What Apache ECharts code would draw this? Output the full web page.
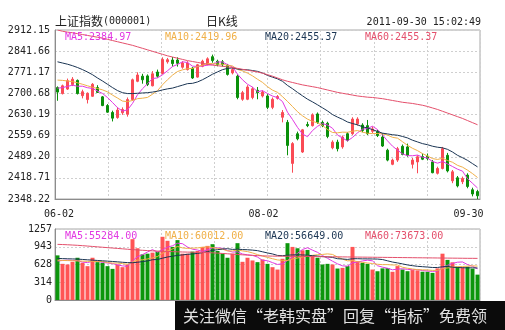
<!DOCTYPE html>
<html>
<head>
<meta charset="utf-8">
<script src="https://cdn.jsdelivr.net/npm/echarts@6/dist/echarts.min.js"></script>
<style>
  html, body { margin: 0; padding: 0; background: #fff; }
  #chart { width: 505px; height: 330px; }
</style>
</head>
<body>
<div id="chart"></div>
<script>
// Trading days shown on the chart
const dates = [
  '06-02','06-03','06-07','06-08','06-09','06-10','06-13','06-14','06-15','06-16',
  '06-17','06-20','06-21','06-22','06-23','06-24','06-27','06-28','06-29','06-30',
  '07-01','07-04','07-05','07-06','07-07','07-08','07-11','07-12','07-13','07-14',
  '07-15','07-18','07-19','07-20','07-21','07-22','07-25','07-26','07-27','07-28',
  '07-29','08-01','08-02','08-03','08-04','08-05','08-08','08-09','08-10','08-11',
  '08-12','08-15','08-16','08-17','08-18','08-19','08-22','08-23','08-24','08-25',
  '08-26','08-29','08-30','08-31','09-01','09-02','09-05','09-06','09-07','09-08',
  '09-09','09-13','09-14','09-15','09-16','09-19','09-20','09-21','09-22','09-23',
  '09-26','09-27','09-28','09-29','09-30'
];

// Daily prices
const openPx = [
  2720,2700,2715,2730,2744,2693,2680,2691,2720,2689,
  2660,2637,2620,2636,2631,2680,2741,2758,2759,2726,
  2772,2767,2806,2812,2812,2788,2780,2785,2755,2791,
  2797,2823,2808,2806,2794,2769,2758,2681,2681,2687,
  2711,2692,2692,2654,2684,2621,2604,2467,2566,2505,
  2597,2593,2632,2604,2601,2519,2538,2522,2566,2566,
  2599,2595,2593,2574,2573,2555,2511,2464,2478,2524,
  2522,2464,2472,2490,2491,2472,2434,2450,2494,2409,
  2419,2406,2428,2379,2373
];
const closePx = [
  2705,2726,2743,2748,2700,2706,2701,2731,2704,2660,
  2638,2618,2645,2647,2680,2746,2762,2746,2730,2766,
  2758,2814,2813,2800,2801,2802,2802,2752,2796,2808,
  2816,2810,2797,2796,2764,2780,2687,2703,2722,2716,
  2703,2705,2654,2681,2690,2637,2527,2533,2549,2579,
  2593,2629,2604,2593,2557,2538,2516,2555,2544,2615,
  2615,2577,2566,2582,2560,2525,2478,2478,2516,2497,
  2494,2478,2489,2481,2483,2436,2450,2516,2442,2439,
  2392,2417,2390,2365,2359
];
const lowPx = [
  2676,2697,2712,2725,2697,2684,2667,2689,2702,2658,
  2636,2607,2616,2629,2623,2676,2738,2733,2725,2724,
  2753,2764,2800,2790,2790,2783,2777,2749,2753,2788,
  2794,2803,2791,2790,2760,2764,2681,2676,2678,2681,
  2681,2687,2648,2648,2680,2604,2494,2436,2544,2502,
  2588,2590,2599,2588,2551,2514,2507,2516,2540,2562,
  2593,2571,2562,2568,2555,2522,2474,2461,2472,2494,
  2489,2450,2434,2478,2477,2434,2430,2447,2437,2401,
  2387,2398,2384,2357,2348.22
];
const highPx = [
  2724,2730,2750,2755,2747,2713,2704,2735,2728,2692,
  2665,2643,2654,2654,2687,2750,2771,2766,2764,2775,
  2780,2821,2819,2822,2821,2808,2808,2788,2799,2813,
  2821,2830,2813,2812,2799,2786,2764,2709,2728,2722,
  2722,2711,2698,2687,2695,2645,2612,2538,2573,2582,
  2606,2634,2637,2610,2606,2544,2546,2560,2571,2621,
  2621,2601,2612,2590,2579,2568,2516,2483,2522,2530,
  2533,2485,2494,2500,2500,2478,2456,2522,2502,2445,
  2425,2423,2434,2386,2379
];

// Price moving averages
const priceMa5 = [
  2718,2720,2724,2728,2724.4,2724.6,2719.6,2717.2,2708.4,2700.4,
  2686.8,2670.2,2653,2641.6,2645.6,2667.2,2696,2716.2,2732.8,2750,
  2752.4,2762.8,2776.2,2790.2,2797.2,2806,2803.6,2791.4,2790.6,2792,
  2794.8,2796.4,2805.4,2805.4,2796.6,2789.4,2764.8,2746,2731.2,2721.6,
  2706.2,2709.8,2700,2691.8,2686.6,2673.4,2637.8,2613.6,2587.2,2565,
  2556.2,2576.6,2590.8,2599.6,2595.2,2584.2,2561.6,2551.8,2542,2553.6,
  2569,2581.2,2583.4,2591,2580,2562,2542.2,2524.6,2511.4,2498.8,
  2492.6,2492.6,2494.8,2487.8,2485,2473.4,2467.8,2473.2,2465.4,2456.6,
  2447.8,2441.2,2416,2400.6,2384.97
];
const priceMa10 = [
  2745,2744,2742,2740,2736,2731,2726,2721,2717,2712.4,
  2705.7,2694.9,2685.1,2675,2673,2677,2683.1,2684.6,2687.2,2697.8,
  2709.8,2729.4,2746.2,2761.5,2773.6,2779.2,2783.2,2783.8,2790.4,2794.6,
  2800.4,2800,2798.4,2798,2794.3,2792.1,2780.6,2775.7,2768.3,2759.1,
  2747.8,2737.3,2723,2711.5,2704.1,2689.8,2673.8,2656.8,2639.5,2625.8,
  2614.8,2607.2,2602.2,2593.4,2580.1,2570.2,2569.1,2571.3,2570.8,2574.4,
  2576.6,2571.4,2567.6,2566.5,2566.8,2565.5,2561.7,2554,2551.2,2539.4,
  2527.3,2517.4,2509.7,2499.6,2491.9,2483,2480.2,2484,2476.6,2470.8,
  2460.6,2454.5,2444.6,2433,2419.96
];
const priceMa20 = [
  2806,2802,2798,2793,2787,2780,2772,2763,2752,2742,
  2731,2720,2710,2703,2700,2700,2701,2702,2703,2705.1,
  2707.8,2712.2,2715.7,2718.3,2723.3,2728.1,2733.2,2734.2,2738.8,2746.2,
  2755.1,2764.7,2772.3,2779.8,2784,2785.7,2781.9,2779.8,2779.4,2776.9,
  2774.1,2768.7,2760.7,2754.8,2749.2,2741,2727.2,2716.3,2703.9,2692.5,
  2681.3,2672.3,2662.6,2652.5,2642.1,2630,2621.5,2614.1,2605.2,2600.1,
  2595.7,2589.3,2584.9,2580,2573.5,2567.9,2565.4,2562.7,2561,2556.9,
  2552,2544.4,2538.7,2533,2529.4,2524.3,2521,2519,2513.9,2505.1,
  2494,2486,2477.2,2466.3,2455.37
];
const priceMa60 = [
  2912.15,2908,2905,2903,2900,2897,2894,2891,2888,2885,
  2881,2877,2873,2869,2865,2861,2856,2851,2846,2841,
  2836,2831,2826,2822,2818,2814,2810,2807,2804,2801,
  2798,2795,2793,2791,2789,2787,2784,2781,2778,2775,
  2772,2768,2763,2758,2752,2746,2741,2737,2733,2729,
  2726,2723,2720,2716,2712,2708,2704,2701,2698,2695,
  2692,2690,2688,2687,2685,2683,2680,2677,2674,2671,
  2669,2667,2664,2661,2657,2652,2647,2641,2635,2629,
  2623,2617,2610,2603,2596
];

// Daily volume and its moving averages
const volume = [
  790,640,629,676,748,658,599,748,670,658,
  599,551,629,581,629,1077,916,808,820,838,
  856,1119,1048,940,1060,820,820,856,868,940,
  958,988,868,820,748,820,1006,676,748,700,
  670,718,640,581,539,730,1006,940,916,880,
  886,790,748,629,640,629,557,569,599,940,
  688,658,640,539,509,560,565,500,600,540,
  510,530,525,500,500,480,560,820,710,667,
  590,580,590,555,449
];
const volMa5 = [
  690,700,705,700,696.6,670.2,662,685.8,684.6,666.6,
  654.8,645.2,621.4,603.6,597.8,693.4,766.4,802.2,850,891.8,
  847.6,888.2,936.2,960.2,1004.6,997.4,937.6,899.2,884.8,860.8,
  888.4,922,924.4,914.8,876.4,848.8,852.4,814,799.6,790,
  760,702.4,695.2,661.8,629.6,641.6,699.2,759.2,826.2,894.4,
  925.6,882.4,844,786.6,738.6,687.2,640.6,604.8,598.8,658.8,
  670.6,690.8,705,693,606.8,581.2,562.6,534.6,546.8,553,
  543,536,541,521,513,507,513,572,614,647.4,
  669.4,673.4,627.4,596.4,552.84
];
const volMa10 = [
  705,700,698,695,692,688,685,683,682,681.6,
  662.5,653.6,653.6,644.1,632.2,674.1,705.8,711.8,726.8,744.8,
  770.5,827.3,869.2,905.1,948.2,922.5,912.9,917.7,922.5,932.7,
  942.9,929.8,911.8,899.8,868.6,868.6,887.2,869.2,857.2,833.2,
  804.4,777.4,754.6,730.7,709.8,700.8,700.8,727.2,744,762,
  783.6,790.8,801.6,806.4,816.5,806.4,761.5,724.4,692.7,698.7,
  678.9,665.7,654.9,645.9,632.8,625.9,626.7,619.8,619.9,579.9,
  562.1,549.3,537.8,533.9,533,525,524.5,556.5,567.5,580.2,
  588.2,593.2,599.7,605.2,600.12
];
const volMa20 = [
  736,733,730,727,724,718,712,706,700,694,
  688,682,676,668,662,660,668,680,692,713.2,
  716.5,740.5,761.4,774.6,790.2,798.3,809.4,814.8,824.7,838.8,
  856.7,878.6,890.5,902.5,908.4,895.6,900.1,893.5,889.9,883,
  873.7,853.6,833.2,815.3,789.2,784.7,794,798.2,800.6,797.6,
  794,784.1,778.1,768.6,763.2,753.6,731.2,725.8,718.4,730.4,
  731.3,728.3,728.3,726.2,724.7,716.2,694.1,672.1,656.3,639.3,
  620.5,607.5,596.4,589.9,582.9,575.5,575.6,588.2,593.7,580.1,
  575.2,571.3,568.8,569.6,566.49
];
const volMa60 = [
  985,982,978,973,968,962,955,948,941,934,
  927,920,913,906,899,892,886,880,875,870,
  866,862,859,856,853,850,848,846,844,842,
  839,835,830,824,818,812,806,800,795,790,
  786,782,779,777,776,775,774,773,772,771,
  770,769,768,767,766,765,764,763,762,761,
  760,759,758,757,756,755,754,753,752,751,
  750,749,748,747,746,745,744,743,742,741,
  740,739,738,737.5,736.73
];

// Axis tick labels
const priceTicks = ['2348.22','2418.71','2489.20','2559.69','2630.19','2700.68','2771.17','2841.66','2912.15'];
const volumeTicks = ['0','314','628','943','1257'];
const dateTicks = ['06-02','08-02','09-30'];

// Header and moving-average captions
const titleName = '上证指数';
const titleCode = '(000001)';
const periodName = '日K线';
const timestamp = '2011-09-30 15:02:49';
const priceMaLabels = ['MA5:2384.97','MA10:2419.96','MA20:2455.37','MA60:2455.37'];
const volumeMaLabels = ['MA5:55284.00','MA10:60012.00','MA20:56649.00','MA60:73673.00'];
const bannerText = '关注微信“老韩实盘”回复“指标”免费领';

// ---- styling ----
const MONO = '"DejaVu Sans Mono", "Liberation Mono", monospace';
const CJK = '"Noto Sans CJK SC", sans-serif';
const UP = '#fa4b55', DOWN = '#0a900a';
const VOL_UP = '#ff5454', VOL_DOWN = '#0c960c';
const MA_COLORS = ['#e238e2', '#f0b048', '#1b3553', '#e4506c'];
const GRID_LINE = { show: true, lineStyle: { color: '#cfcfcf', type: [2, 2], width: 1 } };
const AXIS_LINE = { show: true, lineStyle: { color: '#8c8c8c', width: 1 } };

const priceMin = parseFloat(priceTicks[0]);
const priceMax = parseFloat(priceTicks[priceTicks.length - 1]);
const priceStep = (priceMax - priceMin) / (priceTicks.length - 1);
const volMax = parseFloat(volumeTicks[volumeTicks.length - 1]);
const volStep = volMax / (volumeTicks.length - 1);

const PLOT_L = 55, PLOT_W = 425;
const grids = [
  { left: PLOT_L, top: 30, width: PLOT_W, height: 169, show: true, borderColor: '#a8a8a8', borderWidth: 1 },
  { left: PLOT_L, top: 229, width: PLOT_W, height: 71, show: true, borderColor: '#a8a8a8', borderWidth: 1 }
];

function maLine(name, data, color, xi, yi) {
  return {
    name, type: 'line', data, xAxisIndex: xi, yAxisIndex: yi,
    symbol: 'none', smooth: false, silent: true,
    lineStyle: { color, width: 1 }, z: 3
  };
}

function verticalGridAxis(gridIndex) {
  return {
    type: 'value', gridIndex, min: 0, max: 8, interval: 1, position: 'top',
    axisLine: { show: false }, axisTick: { show: false }, axisLabel: { show: false },
    splitLine: GRID_LINE
  };
}

const dateRich = {
  d0: { fontFamily: MONO, fontSize: 10, color: '#222', padding: [0, 0, 0, 3] },
  d1: { fontFamily: MONO, fontSize: 10, color: '#222', padding: [0, 8, 0, 0] },
  d2: { fontFamily: MONO, fontSize: 10, color: '#222', padding: [0, 18, 0, 0] }
};

const candleData = dates.map((d, i) => [openPx[i], closePx[i], lowPx[i], highPx[i]]);
const volumeData = volume.map((v, i) => ({
  value: v,
  itemStyle: { color: closePx[i] >= openPx[i] ? VOL_UP : VOL_DOWN }
}));

function captionTexts(labels, y) {
  return labels.map((t, k) => ({
    type: 'text', x: 65 + k * 100, y, z: 10, silent: true,
    style: { text: t, fill: MA_COLORS[k], fontFamily: MONO, fontSize: 10, textVerticalAlign: 'middle' }
  }));
}

const option = {
  animation: false,
  backgroundColor: '#ffffff',
  grid: grids,
  xAxis: [
    {
      type: 'category', gridIndex: 0, data: dates, boundaryGap: true,
      axisLine: AXIS_LINE, axisTick: { show: false }, splitLine: { show: false },
      axisLabel: {
        show: true, margin: 10,
        interval: (i, v) => dateTicks.indexOf(v) >= 0,
        formatter: v => `{d${dateTicks.indexOf(v)}|${v}}`,
        rich: dateRich
      }
    },
    {
      type: 'category', gridIndex: 1, data: dates, boundaryGap: true,
      axisLine: AXIS_LINE, axisTick: { show: false }, axisLabel: { show: false }, splitLine: { show: false }
    },
    verticalGridAxis(0),
    verticalGridAxis(1)
  ],
  yAxis: [
    {
      type: 'value', gridIndex: 0, min: priceMin, max: priceMax, interval: priceStep,
      axisLine: AXIS_LINE, axisTick: { show: false },
      axisLabel: {
        margin: 5, fontFamily: MONO, fontSize: 10, color: '#222',
        formatter: v => priceTicks[Math.round((v - priceMin) / priceStep)]
      },
      splitLine: GRID_LINE
    },
    {
      type: 'value', gridIndex: 1, min: 0, max: volMax, interval: volStep,
      axisLine: AXIS_LINE, axisTick: { show: false },
      axisLabel: {
        margin: 3, fontFamily: MONO, fontSize: 10, color: '#222',
        formatter: v => volumeTicks[Math.round(v / volStep)]
      },
      splitLine: GRID_LINE
    }
  ],
  series: [
    {
      name: 'K', type: 'candlestick', xAxisIndex: 0, yAxisIndex: 0,
      data: candleData, barWidth: 3, silent: true, z: 2,
      itemStyle: { color: UP, color0: DOWN, borderColor: UP, borderColor0: DOWN, borderWidth: 1 }
    },
    maLine('MA5', priceMa5, MA_COLORS[0], 0, 0),
    maLine('MA10', priceMa10, MA_COLORS[1], 0, 0),
    maLine('MA20', priceMa20, MA_COLORS[2], 0, 0),
    maLine('MA60', priceMa60, MA_COLORS[3], 0, 0),
    {
      name: 'VOL', type: 'bar', xAxisIndex: 1, yAxisIndex: 1,
      data: volumeData, barWidth: 4, silent: true, z: 2
    },
    maLine('VMA5', volMa5, MA_COLORS[0], 1, 1),
    maLine('VMA10', volMa10, MA_COLORS[1], 1, 1),
    maLine('VMA20', volMa20, MA_COLORS[2], 1, 1),
    maLine('VMA60', volMa60, MA_COLORS[3], 1, 1)
  ],
  graphic: [
    { type: 'text', x: 55, y: 21, silent: true,
      style: { text: titleName, fill: '#222', fontFamily: CJK, fontSize: 12, textVerticalAlign: 'middle' } },
    { type: 'text', x: 103, y: 21, silent: true,
      style: { text: titleCode, fill: '#222', fontFamily: MONO, fontSize: 10, textVerticalAlign: 'middle' } },
    { type: 'text', x: 206, y: 21, silent: true,
      style: { text: periodName, fill: '#222', fontFamily: CJK, fontSize: 12, textVerticalAlign: 'middle' } },
    { type: 'text', x: 481, y: 22, silent: true,
      style: { text: timestamp, fill: '#222', fontFamily: MONO, fontSize: 10, textAlign: 'right', textVerticalAlign: 'middle' } },
    ...captionTexts(priceMaLabels, 37),
    ...captionTexts(volumeMaLabels, 236),
    { type: 'rect', z: 20, silent: true, shape: { x: 175, y: 301, width: 330, height: 29 },
      style: { fill: '#0b0b0b' } },
    { type: 'text', x: 183, y: 316, z: 21, silent: true,
      style: { text: bannerText, fill: '#e2e2e2', fontFamily: CJK, fontSize: 16, textVerticalAlign: 'middle' } }
  ]
};

const chart = echarts.init(document.getElementById('chart'), null, { renderer: 'canvas' });
chart.setOption(option);
</script>
</body>
</html>
